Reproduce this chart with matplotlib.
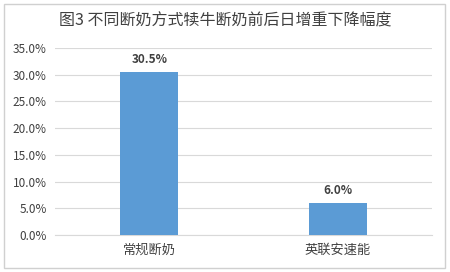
import matplotlib
matplotlib.use("Agg")
import matplotlib.pyplot as plt
from matplotlib.patches import Rectangle
from matplotlib.ticker import FuncFormatter

plt.rcParams['font.family'] = ['Noto Sans CJK SC', 'DejaVu Sans']

categories = ["常规断奶", "英联安速能"]
values = [30.5, 6.0]
title = "图3 不同断奶方式犊牛断奶前后日增重下降幅度"

fig = plt.figure(figsize=(4.5, 2.72), dpi=100)
fig.patch.set_facecolor("white")
fig.patches.append(Rectangle((4/450, 4/272), 441/450, 264/272, transform=fig.transFigure,
                             fill=False, edgecolor="#D0D0D0", linewidth=1))
ax = fig.add_axes([55/450, 1-235/272, 377/450, 187/272])
x = list(range(len(categories)))
ax.bar(x, values, width=0.31, color="#5B9BD5", zorder=3)
ax.set_xlim(-0.5, 1.5)
ax.set_ylim(0, 35)
ax.set_yticks([0, 5, 10, 15, 20, 25, 30, 35])
ax.yaxis.set_major_formatter(FuncFormatter(lambda v, p: f"{v:.1f}%"))
ax.grid(axis="y", color="#D9D9D9", linewidth=0.8, zorder=0)
for s in ["top", "right", "left"]:
    ax.spines[s].set_visible(False)
ax.spines["bottom"].set_color("#D9D9D9")
ax.tick_params(axis="both", length=0, labelsize=8.5, colors="#404040", pad=6)
ax.set_xticks(x)
ax.set_xticklabels(categories, fontsize=9.5)
for xi, v in zip(x, values):
    ax.text(xi, v + 1.2, f"{v:.1f}%", ha="center", va="bottom", fontsize=8.5,
            color="#404040", fontweight="bold")
fig.text(0.5, 1-21/272, title, ha="center", va="center", fontsize=11.5, color="#404040")
fig.savefig("out.png", dpi=100)
